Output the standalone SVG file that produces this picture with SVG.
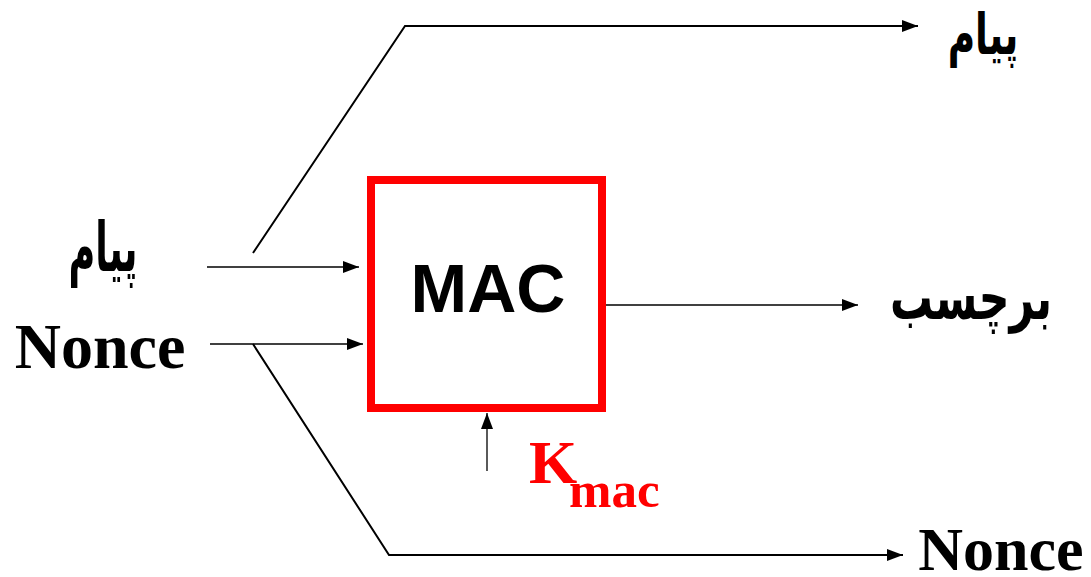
<svg xmlns="http://www.w3.org/2000/svg" width="1091" height="577" viewBox="0 0 1091 577">
<defs>
<marker id="ah" markerWidth="16" markerHeight="12" refX="16" refY="6" orient="auto" markerUnits="userSpaceOnUse">
<path d="M0,0 L16,6 L0,12 Z" fill="#000"/>
</marker>
<style>
.ln{fill:none;stroke:#000;stroke-width:2}
.lt{fill:none;stroke:#000;stroke-width:1.3}
.tx{font-family:"Liberation Serif","DejaVu Serif",serif;font-weight:bold;fill:#000}
.ar{font-family:"DejaVu Sans",sans-serif;font-weight:bold;fill:#000}
</style>
</defs>
<rect width="1091" height="577" fill="#fff"/>
<g id="connectors">
<path class="ln" d="M253,253 L405,26 L918,26" marker-end="url(#ah)"/>
<path class="ln" d="M253,344 L389,555 L903,555" marker-end="url(#ah)"/>
<path class="lt" d="M207,267 L359,267" marker-end="url(#ah)"/>
<path class="lt" d="M210,344 L363,344" marker-end="url(#ah)"/>
<path class="lt" d="M606,305 L858,305" marker-end="url(#ah)"/>
<path class="lt" d="M487,471 L487,413" marker-end="url(#ah)"/>
</g>
<g id="mac">
<rect x="371" y="180" width="231" height="228" fill="#fff" stroke="#ff0000" stroke-width="8"/>
<text x="488" y="312" text-anchor="middle" font-family="Liberation Sans, Arial, sans-serif" font-weight="bold" font-size="68" fill="#000">MAC</text>
</g>
<g id="in-msg"><text class="ar" transform="translate(103,271) scale(0.83,1.55)" x="0" y="0" text-anchor="middle" font-size="44" direction="rtl">پیام</text></g>
<g id="in-nonce"><text class="tx" x="100" y="368" text-anchor="middle" font-size="64">Nonce</text></g>
<g id="out-msg"><text class="ar" transform="translate(983,54) scale(0.85,1.3)" x="0" y="0" text-anchor="middle" font-size="44" direction="rtl">پیام</text></g>
<g id="out-tag"><text class="ar" transform="translate(971,319) scale(0.97,1.4)" x="0" y="0" text-anchor="middle" font-size="44" direction="rtl">برچسب</text></g>
<g id="out-nonce"><text class="tx" x="1001" y="570" text-anchor="middle" font-size="62">Nonce</text></g>
<g id="key"><text class="tx" x="529" y="483" font-size="62" style="fill:#ff0000">K<tspan x="569" y="507" font-size="51">mac</tspan></text></g>
</svg>
